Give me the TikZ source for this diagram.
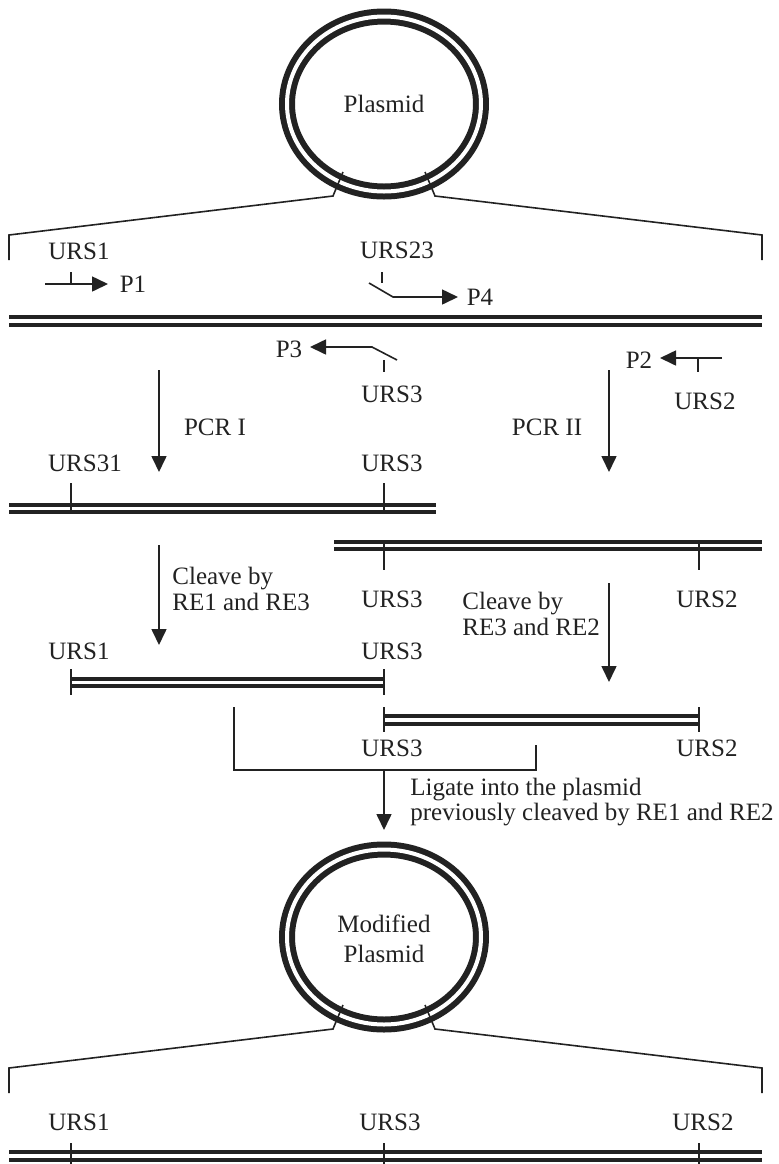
\documentclass[tikz,border=0pt]{standalone}
\usepackage{fontspec}
\setmainfont{Liberation Serif}
\usetikzlibrary{arrows.meta}
\definecolor{ink}{HTML}{222222}

\begin{document}
\begin{tikzpicture}[x=0.5pt,y=-0.5pt,font=\fontsize{12.5pt}{13pt}\selectfont,
    >={Triangle[length=8pt,width=7.5pt]},
    ring/.style={draw=ink,double=white,line width=3pt,double distance=2pt},
    strand/.style={draw=ink,double=white,line width=2pt,double distance=1.75pt},
    rule/.style={draw=ink,line width=0.8pt},
    lbl/.style={text=ink,inner sep=0pt}]
  \useasboundingbox (0,0) rectangle (778,1164);

  % Starting plasmid and the opened region
  \draw[ring] (384,104) ellipse [x radius=48.5pt,y radius=43.75pt];
  \node[lbl] (plasmid) at (384,104) {Plasmid};
  \draw[rule] (343,172) -- (333,196) -- (9,235) -- (9,260);
  \draw[rule] (425,172) -- (435,196) -- (762,235) -- (762,260);

  % Template with the four primers
  \node[lbl] (urs1top) at (79,251) {URS1};
  \node[lbl] (urs23) at (397,250) {URS23};
  \draw[rule,->] (45,284) -- (108,284);
  \draw[rule] (71,272) -- (71,284);
  \node[lbl] (p1) at (133,284) {P1};
  \draw[rule] (382,272) -- (382,283);
  \draw[rule,->] (369,283) -- (393,297) -- (458,297);
  \node[lbl] (p4) at (480,297) {P4};
  \draw[strand] (9,321) -- (762,321);

  \draw[rule,->] (397,360) -- (372,347) -- (310,347);
  \node[lbl] (p3) at (289,349) {P3};
  \draw[rule] (384,360) -- (384,372);
  \node[lbl] (urs3top) at (392,394) {URS3};
  \draw[rule,->] (722,358) -- (660,358);
  \node[lbl] (p2) at (639,360) {P2};
  \draw[rule] (698,358) -- (698,372);
  \node[lbl] (urs2top) at (705,401) {URS2};

  % PCR products
  \draw[rule,->] (159,370) -- (159,472);
  \node[lbl] (pcr1) at (215,427) {PCR I};
  \draw[rule,->] (609,370) -- (609,472);
  \node[lbl] (pcr2) at (547,427) {PCR II};
  \node[lbl] (urs31) at (85,463) {URS31};
  \node[lbl] (urs3a) at (392,463) {URS3};
  \draw[strand] (9,508.5) -- (436,508.5);
  \draw[rule] (71,483) -- (71,514);
  \draw[rule] (384,483) -- (384,514);
  \draw[strand] (334,545.5) -- (762,545.5);
  \draw[rule] (384,540) -- (384,570);
  \draw[rule] (699,540) -- (699,570);
  \node[lbl] (urs3b) at (392,599) {URS3};
  \node[lbl] (urs2b) at (707,599) {URS2};

  % Digestion
  \draw[rule,->] (159,545) -- (159,645);
  \node[lbl,anchor=west,align=left] (cut1) at (172,589)
    {Cleave by\\RE1 and RE3};
  \draw[rule,->] (609,583) -- (609,682);
  \node[lbl,anchor=west,align=left] (cut2) at (462,614)
    {Cleave by\\RE3 and RE2};

  \node[lbl] (urs1c) at (79,651) {URS1};
  \node[lbl] (urs3c) at (392,651) {URS3};
  \draw[strand] (71,682.5) -- (384,682.5);
  \draw[rule] (71,669) -- (71,695);
  \draw[rule] (384,669) -- (384,695);
  \draw[strand] (384,720) -- (699,720);
  \draw[rule] (384,707) -- (384,732);
  \draw[rule] (699,707) -- (699,732);
  \node[lbl] (urs3d) at (392,748) {URS3};
  \node[lbl] (urs2d) at (707,748) {URS2};

  % Ligation
  \draw[rule] (234,707) -- (234,770) -- (536,770) -- (536,745);
  \draw[rule,->] (384,770) -- (384,830);
  \node[lbl,anchor=west,align=left,font=\fontsize{12.5pt}{11pt}\selectfont]
    (ligate) at (410,802)
    {Ligate into the plasmid\\previously cleaved by RE1 and RE2};

  % Modified plasmid
  \draw[ring] (384,937) ellipse [x radius=48.5pt,y radius=43.75pt];
  \node[lbl,align=center,font=\fontsize{12.5pt}{15pt}\selectfont]
    (modplasmid) at (384,939) {Modified\\Plasmid};
  \draw[rule] (343,1005) -- (333,1029) -- (9,1068) -- (9,1093);
  \draw[rule] (425,1005) -- (435,1029) -- (762,1068) -- (762,1093);
  \node[lbl] (urs1e) at (79,1122) {URS1};
  \node[lbl] (urs3e) at (390,1122) {URS3};
  \node[lbl] (urs2e) at (703,1122) {URS2};
  \draw[strand] (9,1156) -- (762,1156);
  \foreach \x in {71,384,699}
    \draw[rule] (\x,1143) -- (\x,1164);
\end{tikzpicture}
\end{document}
